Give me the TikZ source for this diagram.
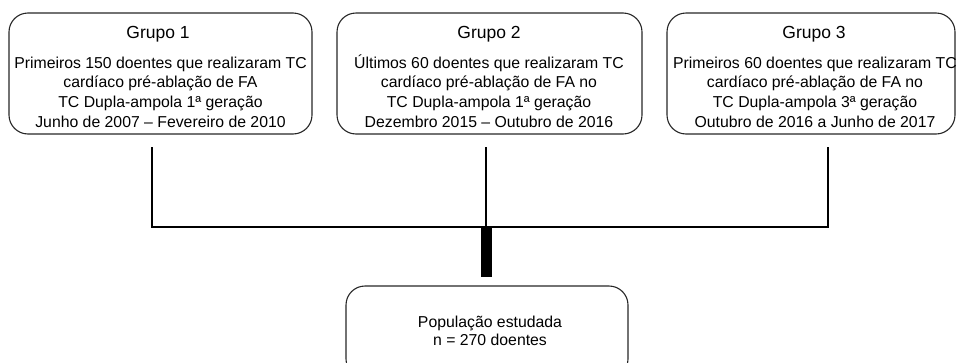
\documentclass[tikz,border=0pt]{standalone}
\usepackage{fontspec}
\setmainfont{Liberation Sans}
\begin{document}
\begin{tikzpicture}[x=1pt,y=-1pt,
  grpbox/.style={draw=black!85,line width=1.1pt,rounded corners=19pt},
  ttl/.style={anchor=base,font=\fontsize{17.5}{20}\selectfont,inner sep=0pt},
  txt/.style={anchor=base,font=\fontsize{15.8}{19.6}\selectfont,inner sep=0pt,align=center},
  conn/.style={line width=2.4pt,line cap=butt}]
\useasboundingbox (0,0) rectangle (958,362);
\clip (0,0) rectangle (958,362);
% boxes
\draw[grpbox] (9,13) rectangle (312,134);
\draw[grpbox] (337,13) rectangle (642,134);
\draw[grpbox] (667,13) rectangle (955,134);
\draw[grpbox] (346,286) rectangle (628,378);
% titles
\node[ttl] (g1) at (158,38) {Grupo 1};
\node[ttl] (g2) at (489,38) {Grupo 2};
\node[ttl] (g3) at (814,38) {Grupo 3};
% body text (base = baseline of last line)
\node[txt] (t1) at (160.5,127) {Primeiros 150 doentes que realizaram TC\\cardíaco pré-ablação de FA\\TC Dupla-ampola 1ª geração\\Junho de 2007 – Fevereiro de 2010};
\node[txt] (t2) at (489,127) {Últimos 60 doentes que realizaram TC\\cardíaco pré-ablação de FA no\\TC Dupla-ampola 1ª geração\\Dezembro 2015 – Outubro de 2016};
\node[txt] (t3) at (815,127) {Primeiros 60 doentes que realizaram TC\\cardíaco pré-ablação de FA no\\TC Dupla-ampola 3ª geração\\Outubro de 2016 a Junho de 2017};
\node[txt,font=\fontsize{15.8}{18}\selectfont] (pop) at (490,345) {População estudada\\n = 270 doentes};
% connectors
\coordinate (a1) at (152,147);
\coordinate (a2) at (486,147);
\coordinate (a3) at (828,147);
\coordinate (b1) at (152,227);
\coordinate (b2) at (486,227);
\coordinate (b3) at (828,227);
\draw[conn] (a1) -- (b1);
\draw[conn] (a2) -- (b2);
\draw[conn] (a3) -- (b3);
\draw[conn,line cap=rect] (b1) -- (b3);
\coordinate (c1) at (486.5,227);
\coordinate (c2) at (486.5,277);
\draw[line width=11pt] (c1) -- (c2);
\end{tikzpicture}
\end{document}
